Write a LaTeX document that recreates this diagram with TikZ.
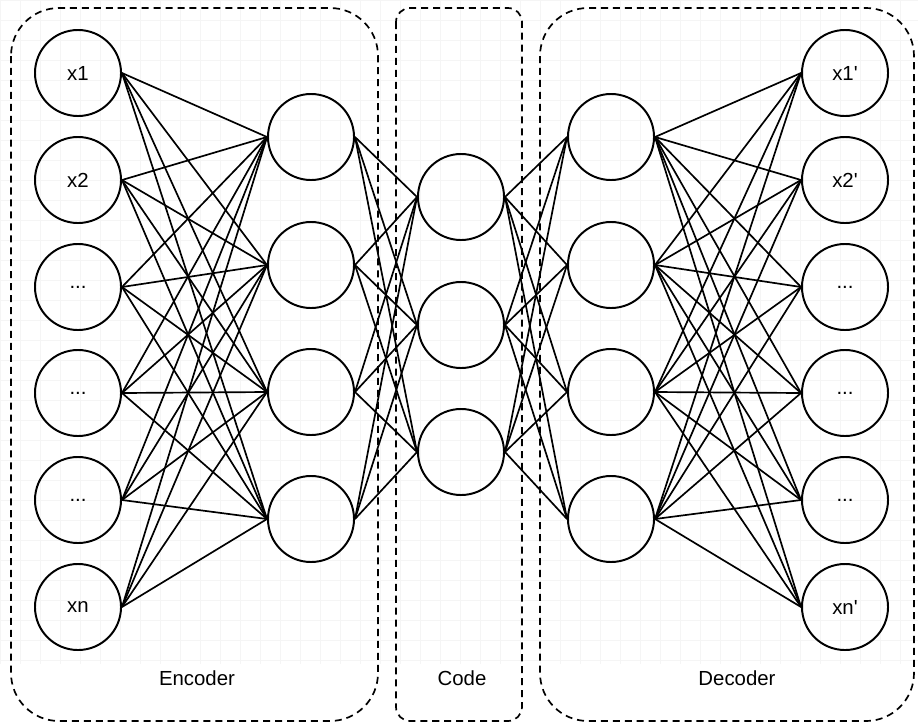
\documentclass[tikz,border=0pt]{standalone}
\usepackage{fontspec}
\setmainfont{Liberation Sans}
\newcommand\dts{...}
\newcommand\pr{\textquotesingle}
\begin{document}
\begin{tikzpicture}[x=0.025cm,y=-0.025cm,
  neuron/.style={draw,circle,line width=1.4pt,minimum size=2.15cm,inner sep=0pt,font=\fontsize{14.5}{17}\selectfont},
  link/.style={line width=1.2pt},
  group/.style={draw,line width=1.2pt,dash pattern=on 5pt off 3.5pt},
  grouplabel/.style={font=\fontsize{14.5}{17}\selectfont}]
\useasboundingbox (0,0) rectangle (918,724);
\draw[black!4,step=0.5cm] (0,0) grid (918,664);
\draw[group,rounded corners=1.2cm] (11,8) rectangle (378,721);
\draw[group,rounded corners=0.35cm] (396,8) rectangle (522,721);
\draw[group,rounded corners=1.2cm] (540,8) rectangle (914,721);
\foreach \y/\t [count=\i] in {73/x1,180/x2,287/\dts,393/\dts,500/\dts,607/xn}
  \node[neuron] (in\i) at (78,\y) {\t};
\foreach \y/\t [count=\i] in {73/x1\pr,180/x2\pr,287/\dts,393/\dts,500/\dts,607/xn\pr}
  \node[neuron] (out\i) at (845,\y) {\t};
\foreach \y [count=\i] in {137,265,392,519}{
  \node[neuron] (ha\i) at (311,\y) {};
  \node[neuron] (hb\i) at (611,\y) {};
}
\foreach \y [count=\i] in {197,325,452}
  \node[neuron] (code\i) at (461,\y) {};
\foreach \i in {1,...,6}
  \foreach \j in {1,...,4}{
    \draw[link] (in\i.east) -- (ha\j.west);
    \draw[link] (hb\j.east) -- (out\i.west);
  }
\foreach \i in {1,...,4}
  \foreach \j in {1,...,3}{
    \draw[link] (ha\i.east) -- (code\j.west);
    \draw[link] (code\j.east) -- (hb\i.west);
  }
\node[grouplabel] (enc) at (197,678) {Encoder};
\node[grouplabel] (cod) at (462,678) {Code};
\node[grouplabel] (dec) at (737,678) {Decoder};
\end{tikzpicture}
\end{document}
